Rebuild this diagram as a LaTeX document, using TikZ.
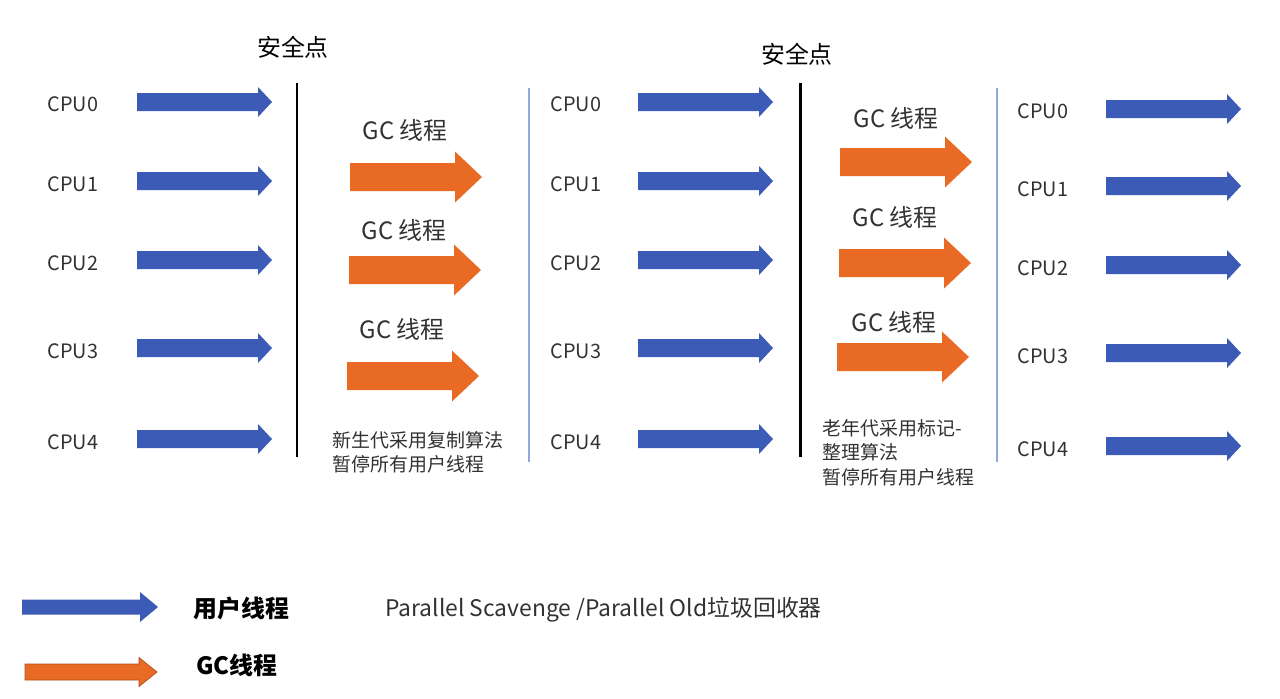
\documentclass[tikz,border=0pt]{standalone}
\usepackage{fontspec}
\setmainfont{Noto Sans CJK SC}
\usepackage{tikz}
\usepackage{xcolor}

\definecolor{userblue}{RGB}{59,91,183}
\definecolor{gcorange}{RGB}{232,106,37}
\definecolor{sepblue}{RGB}{143,170,220}
\definecolor{txtgray}{RGB}{50,50,50}

\begin{document}
\begin{tikzpicture}[
    x=0.02cm, y=-0.02cm,
    cpulabel/.style={text=txtgray, font=\fontsize{11.3}{13}\selectfont, inner sep=0pt},
    gclabel/.style={text=txtgray, font=\fontsize{13.6}{16}\selectfont, inner sep=0pt},
    safelabel/.style={text=black, font=\fontsize{13.6}{16}\selectfont, inner sep=0pt},
    note/.style={text=txtgray, font=\fontsize{10.8}{14}\selectfont, align=left, anchor=north west, inner sep=0pt},
    legend/.style={text=black, font=\bfseries\fontsize{13.6}{16}\selectfont, anchor=west, inner sep=0pt},
    safeline/.style={line width=1.7pt, black},
    sepline/.style={line width=0.9pt, sepblue},
    pics/fatarrow/.style n args={4}{code={
        \path[pic actions] (0,-#2) -- (#1-#4,-#2) -- (#1-#4,-#3) -- (#1,0)
            -- (#1-#4,#3) -- (#1-#4,#2) -- (0,#2) -- cycle;
    }},
    pics/userarrow/.style={fatarrow={135}{9}{15}{14}},
    pics/gcarrow/.style={fatarrow={132}{14}{25.5}{27}}
]
\useasboundingbox (0,0) rectangle (1280,698);

% First stage: user threads
\node[cpulabel] (cpuA0) at (73,104) {CPU0};
\node[cpulabel] (cpuA1) at (73,184) {CPU1};
\node[cpulabel] (cpuA2) at (73,263) {CPU2};
\node[cpulabel] (cpuA3) at (73,351) {CPU3};
\node[cpulabel] (cpuA4) at (73,442) {CPU4};
\pic[fill=userblue] at (137,102) {userarrow};
\pic[fill=userblue] at (137,181) {userarrow};
\pic[fill=userblue] at (137,260) {userarrow};
\pic[fill=userblue] at (137,348) {userarrow};
\pic[fill=userblue] at (137,439) {userarrow};

% First safepoint
\node[safelabel] (safeA) at (293,47) {安全点};
\coordinate (safeAtop) at (297,83);
\coordinate (safeAbot) at (297,457);
\draw[safeline] (safeAtop) -- (safeAbot);

% Young generation GC threads
\node[gclabel] (gcA0) at (405,130) {GC 线程};
\node[gclabel] (gcA1) at (404,230) {GC 线程};
\node[gclabel] (gcA2) at (402,329) {GC 线程};
\pic[fill=gcorange] at (350,177) {gcarrow};
\pic[fill=gcorange] at (349,270) {gcarrow};
\pic[fill=gcorange] at (347,376) {gcarrow};
\node[note] (noteA) at (332,431) {新生代采用复制算法\\暂停所有用户线程};

% Separator
\coordinate (sepAtop) at (529,88);
\coordinate (sepAbot) at (529,462);
\draw[sepline] (sepAtop) -- (sepAbot);

% Second stage: user threads
\node[cpulabel] (cpuB0) at (576,104) {CPU0};
\node[cpulabel] (cpuB1) at (576,184) {CPU1};
\node[cpulabel] (cpuB2) at (576,263) {CPU2};
\node[cpulabel] (cpuB3) at (576,351) {CPU3};
\node[cpulabel] (cpuB4) at (576,442) {CPU4};
\pic[fill=userblue] at (638,102) {userarrow};
\pic[fill=userblue] at (638,181) {userarrow};
\pic[fill=userblue] at (638,260) {userarrow};
\pic[fill=userblue] at (638,348) {userarrow};
\pic[fill=userblue] at (638,439) {userarrow};

% Second safepoint
\node[safelabel] (safeB) at (797,54) {安全点};
\coordinate (safeBtop) at (800,83);
\coordinate (safeBbot) at (800,457);
\draw[safeline] (safeBtop) -- (safeBbot);

% Old generation GC threads
\node[gclabel] (gcB0) at (896,118) {GC 线程};
\node[gclabel] (gcB1) at (895,217) {GC 线程};
\node[gclabel] (gcB2) at (894,322) {GC 线程};
\pic[fill=gcorange] at (840,162) {gcarrow};
\pic[fill=gcorange] at (839,263) {gcarrow};
\pic[fill=gcorange] at (837,357) {gcarrow};
\node[note] (noteB) at (822,419) {老年代采用标记-\\整理算法\\暂停所有用户线程};

% Separator
\coordinate (sepBtop) at (997,88);
\coordinate (sepBbot) at (997,462);
\draw[sepline] (sepBtop) -- (sepBbot);

% Third stage: user threads
\node[cpulabel] (cpuC0) at (1043,111) {CPU0};
\node[cpulabel] (cpuC1) at (1043,189) {CPU1};
\node[cpulabel] (cpuC2) at (1043,268) {CPU2};
\node[cpulabel] (cpuC3) at (1043,356) {CPU3};
\node[cpulabel] (cpuC4) at (1043,449) {CPU4};
\pic[fill=userblue] at (1106,109) {userarrow};
\pic[fill=userblue] at (1106,186) {userarrow};
\pic[fill=userblue] at (1106,265) {userarrow};
\pic[fill=userblue] at (1106,353) {userarrow};
\pic[fill=userblue] at (1106,446) {userarrow};

% Legend
\pic[fill=userblue] at (22,607) {fatarrow={136}{7.5}{15}{18}};
\pic[fill=gcorange, draw=gcorange!75!black, line width=0.4pt] at (25,672) {fatarrow={132}{8}{14.5}{18}};
\node[legend] (legUser) at (193,608) {用户线程};
\node[legend] (legGC) at (196,665) {GC线程};
\node[text=txtgray, font=\fontsize{13}{15}\selectfont, anchor=west, inner sep=0pt] (title) at (385,610) {Parallel Scavenge /Parallel Old垃圾回收器};

\end{tikzpicture}
\end{document}
